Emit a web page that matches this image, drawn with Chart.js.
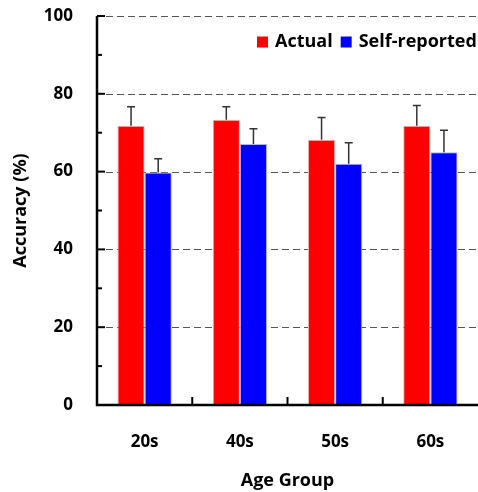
<!DOCTYPE html>
<html>
<head>
<meta charset="utf-8">
<script src="https://cdn.jsdelivr.net/npm/chart.js@4/dist/chart.umd.min.js"></script>
<style>
  html, body { margin: 0; padding: 0; background: #fff; }
  #wrap { width: 478px; height: 492px; }
</style>
</head>
<body>
<div id="wrap"><canvas id="accuracyChart"></canvas></div>
<script>
// values
var ageGroups = ['20s', '40s', '50s', '60s'];
var actual = [71.8, 73.3, 68.2, 71.8];
var actualErr = [4.9, 3.4, 5.7, 5.2];
var selfReported = [59.8, 67.1, 62.0, 65.0];
var selfReportedErr = [3.5, 3.9, 5.4, 5.6];
var yTicks = [0, 20, 40, 60, 80, 100];
var yMinorTicks = [10, 30, 50, 70, 90];

var FONT = '"Open Sans", Lato, sans-serif';

// error bars, axes, ticks, dashed grid and legend
var decorPlugin = {
    id: 'decor',
    beforeDatasetsDraw: function(chart) {
        var ctx = chart.ctx;
        var area = chart.chartArea;
        var y = chart.scales.y;
        ctx.save();
        ctx.strokeStyle = '#555';
        ctx.lineWidth = 1;
        ctx.setLineDash([7, 4]);
        yTicks.forEach(function(v) {
            if (v === 0) return;
            var py = Math.round(y.getPixelForValue(v)) + 0.5;
            ctx.beginPath();
            ctx.moveTo(area.left + 9, py);
            ctx.lineTo(area.right, py);
            ctx.stroke();
        });
        ctx.restore();
    },
    afterDatasetsDraw: function(chart) {
        var ctx = chart.ctx;
        var area = chart.chartArea;
        var x = chart.scales.x;
        var y = chart.scales.y;
        var errs = [actualErr, selfReportedErr];
        ctx.save();

        // error bars (upper only)
        ctx.strokeStyle = '#333';
        ctx.lineWidth = 1.5;
        chart.data.datasets.forEach(function(ds, di) {
            var meta = chart.getDatasetMeta(di);
            meta.data.forEach(function(bar, i) {
                var top = y.getPixelForValue(ds.data[i] + errs[di][i]);
                ctx.beginPath();
                ctx.moveTo(bar.x, bar.y);
                ctx.lineTo(bar.x, top);
                ctx.moveTo(bar.x - 4, top);
                ctx.lineTo(bar.x + 4, top);
                ctx.stroke();
            });
        });

        // axis lines
        ctx.strokeStyle = '#000';
        ctx.lineWidth = 2.5;
        ctx.beginPath();
        ctx.moveTo(area.left, area.top);
        ctx.lineTo(area.left, area.bottom);
        ctx.lineTo(area.right, area.bottom);
        ctx.stroke();

        // y ticks pointing inward
        ctx.lineWidth = 2;
        yTicks.forEach(function(v) {
            var py = y.getPixelForValue(v);
            ctx.beginPath();
            ctx.moveTo(area.left, py);
            ctx.lineTo(area.left + 8, py);
            ctx.stroke();
        });
        yMinorTicks.forEach(function(v) {
            var py = y.getPixelForValue(v);
            ctx.beginPath();
            ctx.moveTo(area.left, py);
            ctx.lineTo(area.left + 5, py);
            ctx.stroke();
        });

        // x ticks between categories
        for (var i = 1; i < ageGroups.length; i++) {
            var px = (x.getPixelForValue(i - 1) + x.getPixelForValue(i)) / 2;
            ctx.beginPath();
            ctx.moveTo(px, area.bottom);
            ctx.lineTo(px, area.bottom - 8);
            ctx.stroke();
        }

        // legend inside the plot, top right
        ctx.font = 'bold 18px ' + FONT;
        ctx.textBaseline = 'middle';
        ctx.textAlign = 'left';
        var ly = 42;
        var lx = 257;
        chart.data.datasets.forEach(function(ds) {
            ctx.fillStyle = ds.backgroundColor;
            ctx.fillRect(lx, ly - 5.5, 11, 11);
            ctx.fillStyle = '#000';
            ctx.fillText(ds.label, lx + 18, ly);
            lx += 18 + ctx.measureText(ds.label).width + 8;
        });

        ctx.restore();
    }
};

var ctx = document.getElementById('accuracyChart').getContext('2d');
var chart = new Chart(ctx, {
    type: 'bar',
    data: {
        labels: ageGroups,
        datasets: [{
            label: 'Actual',
            data: actual,
            backgroundColor: '#ff0000',
            borderColor: '#ffb0b0',
            borderWidth: 1
        }, {
            label: 'Self-reported',
            data: selfReported,
            backgroundColor: '#0000ff',
            borderColor: '#b0b0ff',
            borderWidth: 1
        }]
    },
    plugins: [decorPlugin],
    options: {
        responsive: true,
        maintainAspectRatio: false,
        animation: false,
        layout: { padding: { top: 16, right: 0, left: 0, bottom: 0 } },
        datasets: {
            bar: { categoryPercentage: 0.57, barPercentage: 1 }
        },
        plugins: {
            legend: { display: false },
            tooltip: { enabled: false }
        },
        scales: {
            x: {
                grid: { display: false, drawTicks: false },
                border: { display: false },
                ticks: {
                    color: '#000',
                    padding: 27,
                    font: { family: FONT, size: 17, weight: 'bold' }
                },
                title: {
                    display: true,
                    text: 'Age Group',
                    color: '#000',
                    padding: { top: 0, bottom: 0 },
                    font: { family: FONT, size: 18, weight: 'bold' }
                },
                afterFit: function(scale) {
                    scale.height = 87;
                    scale.paddingLeft = 0;
                    scale.paddingRight = 0;
                }
            },
            y: {
                min: 0,
                max: 100,
                grid: { display: false, drawTicks: false },
                border: { display: false },
                ticks: {
                    stepSize: 20,
                    color: '#000',
                    padding: 24,
                    font: { family: FONT, size: 17, weight: 'bold' }
                },
                title: {
                    display: true,
                    text: 'Accuracy (%)',
                    color: '#000',
                    padding: { top: 10, bottom: 0 },
                    font: { family: FONT, size: 18, weight: 'bold' }
                },
                afterFit: function(scale) {
                    scale.width = 97;
                    scale.paddingTop = 0;
                    scale.paddingBottom = 0;
                }
            }
        }
    }
});
</script>
</body>
</html>
